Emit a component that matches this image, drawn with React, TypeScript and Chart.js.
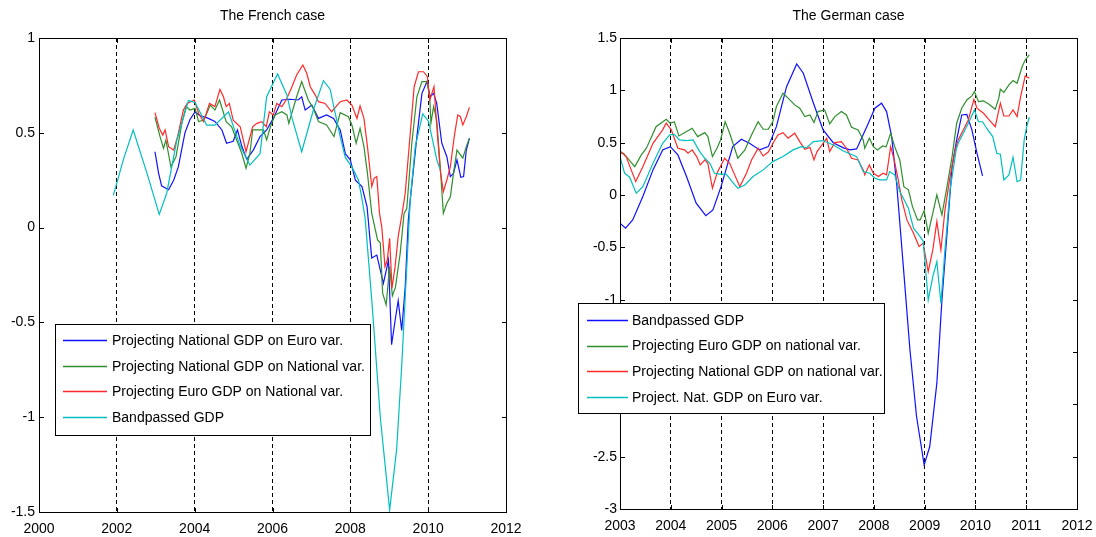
import React, { useEffect, useRef } from "react";
import { Chart, registerables } from "chart.js";

Chart.register(...registerables);

const FONT = '"Liberation Sans", Arial, Helvetica, sans-serif';

// ---------------- French case ----------------
const frTitle = "The French case";
const frXTicks = { min: 2000, max: 2012, step: 2 };
const frYTicks = { min: -1.5, max: 1, step: 0.5 };
const frLabels = [
  "Projecting National GDP on Euro var.",
  "Projecting National GDP on National var.",
  "Projecting Euro GDP on National var.",
  "Bandpassed GDP",
];

const frBlueX = [2002.98, 2003.07, 2003.15, 2003.33, 2003.46, 2003.58, 2003.75, 2003.88, 2004.01, 2004.14, 2004.31, 2004.52, 2004.70, 2004.82, 2004.99, 2005.10, 2005.21, 2005.34, 2005.51, 2005.68, 2005.85, 2006.02, 2006.24, 2006.45, 2006.66, 2006.75, 2006.84, 2007.01, 2007.18, 2007.39, 2007.57, 2007.74, 2007.87, 2008.00, 2008.13, 2008.30, 2008.43, 2008.50, 2008.55, 2008.68, 2008.85, 2008.98, 2009.06, 2009.15, 2009.23, 2009.32, 2009.41, 2009.49, 2009.54, 2009.71, 2009.84, 2009.97, 2010.05, 2010.14, 2010.22, 2010.35, 2010.48, 2010.57, 2010.65, 2010.74, 2010.84, 2010.91, 2010.98, 2011.06];
const frBlueY = [0.40, 0.29, 0.22, 0.20, 0.25, 0.32, 0.50, 0.57, 0.61, 0.59, 0.58, 0.56, 0.515, 0.445, 0.455, 0.515, 0.43, 0.36, 0.41, 0.48, 0.515, 0.576, 0.673, 0.677, 0.673, 0.69, 0.62, 0.646, 0.576, 0.594, 0.576, 0.515, 0.39, 0.357, 0.25, 0.216, 0.11, -0.05, -0.16, -0.145, -0.294, -0.171, -0.618, -0.49, -0.385, -0.543, -0.314, 0.04, 0.146, 0.48, 0.708, 0.77, 0.69, 0.708, 0.655, 0.445, 0.374, 0.269, 0.286, 0.357, 0.265, 0.269, 0.409, 0.471];

const frGreenX = [2002.98, 2003.11, 2003.20, 2003.26, 2003.39, 2003.52, 2003.67, 2003.78, 2003.88, 2004.01, 2004.10, 2004.24, 2004.40, 2004.52, 2004.64, 2004.81, 2004.95, 2005.08, 2005.21, 2005.32, 2005.42, 2005.49, 2005.77, 2005.85, 2005.96, 2006.07, 2006.24, 2006.37, 2006.42, 2006.62, 2006.75, 2006.92, 2007.05, 2007.18, 2007.39, 2007.58, 2007.74, 2007.95, 2008.04, 2008.15, 2008.25, 2008.35, 2008.44, 2008.55, 2008.70, 2008.77, 2008.83, 2008.92, 2009.01, 2009.08, 2009.16, 2009.28, 2009.38, 2009.45, 2009.58, 2009.71, 2009.84, 2009.97, 2010.04, 2010.07, 2010.14, 2010.22, 2010.31, 2010.39, 2010.48, 2010.57, 2010.65, 2010.74, 2010.89, 2010.98, 2011.06];
const frGreenY = [0.582, 0.48, 0.418, 0.462, 0.321, 0.374, 0.55, 0.638, 0.62, 0.629, 0.559, 0.567, 0.646, 0.62, 0.673, 0.559, 0.532, 0.462, 0.392, 0.313, 0.392, 0.515, 0.515, 0.462, 0.541, 0.594, 0.611, 0.594, 0.55, 0.69, 0.77, 0.673, 0.629, 0.559, 0.541, 0.48, 0.606, 0.585, 0.541, 0.445, 0.524, 0.427, 0.286, 0.075, -0.065, -0.08, -0.346, -0.408, -0.206, -0.36, -0.314, -0.137, 0.075, 0.10, 0.445, 0.69, 0.77, 0.77, 0.69, 0.55, 0.638, 0.567, 0.321, 0.075, 0.128, 0.163, 0.286, 0.409, 0.366, 0.427, 0.471];

const frRedX = [2002.98, 2003.09, 2003.18, 2003.24, 2003.33, 2003.46, 2003.56, 2003.71, 2003.81, 2003.99, 2004.10, 2004.23, 2004.38, 2004.52, 2004.65, 2004.74, 2004.81, 2004.89, 2004.99, 2005.17, 2005.32, 2005.49, 2005.60, 2005.72, 2005.84, 2005.92, 2006.02, 2006.11, 2006.24, 2006.35, 2006.50, 2006.62, 2006.78, 2006.88, 2006.97, 2007.10, 2007.18, 2007.35, 2007.52, 2007.74, 2007.91, 2008.04, 2008.17, 2008.25, 2008.35, 2008.44, 2008.55, 2008.61, 2008.68, 2008.75, 2008.81, 2008.89, 2008.95, 2009.01, 2009.07, 2009.15, 2009.23, 2009.32, 2009.41, 2009.54, 2009.64, 2009.75, 2009.88, 2009.98, 2010.04, 2010.15, 2010.21, 2010.31, 2010.39, 2010.48, 2010.57, 2010.67, 2010.76, 2010.83, 2010.89, 2010.98, 2011.06];
const frRedY = [0.606, 0.524, 0.488, 0.515, 0.427, 0.409, 0.48, 0.62, 0.655, 0.673, 0.603, 0.559, 0.655, 0.638, 0.729, 0.69, 0.638, 0.655, 0.567, 0.532, 0.40, 0.532, 0.55, 0.559, 0.532, 0.611, 0.594, 0.655, 0.638, 0.673, 0.743, 0.805, 0.858, 0.814, 0.743, 0.699, 0.664, 0.655, 0.611, 0.664, 0.673, 0.646, 0.576, 0.641, 0.576, 0.427, 0.216, 0.26, 0.269, 0.075, 0.0, -0.206, -0.171, -0.056, -0.32, -0.206, -0.048, 0.06, 0.181, 0.497, 0.743, 0.822, 0.822, 0.796, 0.673, 0.743, 0.567, 0.304, 0.189, 0.251, 0.321, 0.48, 0.594, 0.585, 0.541, 0.585, 0.634];

const frCyanX = [2001.91, 2002.17, 2002.42, 2002.77, 2003.09, 2003.28, 2003.54, 2003.84, 2004.01, 2004.31, 2004.52, 2004.87, 2005.17, 2005.42, 2005.68, 2005.85, 2006.13, 2006.37, 2006.50, 2006.75, 2007.05, 2007.31, 2007.48, 2007.74, 2007.87, 2008.04, 2008.21, 2008.30, 2008.38, 2008.55, 2008.77, 2009.01, 2009.19, 2009.32, 2009.43, 2009.54, 2009.67, 2009.86, 2010.01, 2010.22, 2010.30];
const frCyanY = [0.17, 0.36, 0.515, 0.29, 0.07, 0.18, 0.46, 0.67, 0.66, 0.54, 0.54, 0.61, 0.43, 0.33, 0.39, 0.69, 0.81, 0.70, 0.58, 0.40, 0.62, 0.775, 0.73, 0.48, 0.37, 0.32, 0.25, 0.15, 0.05, -0.38, -1.0, -1.49, -1.17, -0.73, -0.29, 0.15, 0.43, 0.60, 0.56, 0.36, 0.31];

// ---------------- German case ----------------
const deTitle = "The German case";
const deXTicks = { min: 2003, max: 2012, step: 1 };
const deYTicks = { min: -3, max: 1.5, step: 0.5 };
const deLabels = [
  "Bandpassed GDP",
  "Projecting Euro GDP on national var.",
  "Projecting National GDP on national var.",
  "Project. Nat. GDP on Euro var.",
];

const deBlueX = [2003.00, 2003.11, 2003.25, 2003.45, 2003.65, 2003.84, 2003.99, 2004.14, 2004.31, 2004.50, 2004.69, 2004.83, 2004.99, 2005.22, 2005.39, 2005.55, 2005.75, 2005.92, 2006.08, 2006.28, 2006.48, 2006.61, 2006.81, 2007.00, 2007.20, 2007.40, 2007.53, 2007.66, 2007.86, 2008.02, 2008.15, 2008.25, 2008.35, 2008.45, 2008.58, 2008.71, 2008.84, 2008.99, 2009.10, 2009.24, 2009.34, 2009.44, 2009.54, 2009.63, 2009.73, 2009.83, 2009.93, 2010.03, 2010.14];
const deBlueY = [-0.27, -0.317, -0.238, -0.015, 0.24, 0.431, 0.462, 0.383, 0.176, -0.078, -0.197, -0.142, 0.08, 0.462, 0.533, 0.494, 0.431, 0.462, 0.653, 1.035, 1.252, 1.163, 0.877, 0.622, 0.50, 0.45, 0.431, 0.44, 0.653, 0.829, 0.877, 0.797, 0.558, 0.10, -0.684, -1.479, -2.116, -2.578, -2.403, -1.798, -1.002, -0.365, 0.271, 0.526, 0.765, 0.77, 0.622, 0.399, 0.182];

const deGreenX = [2003.00, 2003.07, 2003.29, 2003.42, 2003.52, 2003.71, 2003.91, 2003.99, 2004.07, 2004.16, 2004.31, 2004.42, 2004.53, 2004.67, 2004.73, 2004.82, 2004.91, 2004.98, 2005.07, 2005.16, 2005.32, 2005.46, 2005.59, 2005.72, 2005.82, 2005.92, 2006.01, 2006.08, 2006.21, 2006.31, 2006.44, 2006.54, 2006.64, 2006.74, 2006.82, 2006.90, 2007.03, 2007.13, 2007.23, 2007.36, 2007.46, 2007.56, 2007.69, 2007.79, 2007.82, 2007.91, 2007.99, 2008.07, 2008.17, 2008.24, 2008.33, 2008.41, 2008.51, 2008.59, 2008.68, 2008.76, 2008.86, 2008.91, 2008.99, 2009.07, 2009.16, 2009.24, 2009.34, 2009.44, 2009.54, 2009.63, 2009.73, 2009.83, 2009.93, 2009.98, 2010.06, 2010.16, 2010.26, 2010.39, 2010.46, 2010.49, 2010.56, 2010.66, 2010.74, 2010.82, 2010.92, 2010.98, 2011.06];
const deGreenY = [0.40, 0.399, 0.271, 0.383, 0.447, 0.653, 0.724, 0.686, 0.70, 0.564, 0.606, 0.638, 0.558, 0.596, 0.558, 0.367, 0.447, 0.526, 0.701, 0.59, 0.351, 0.431, 0.574, 0.701, 0.628, 0.628, 0.701, 0.845, 0.972, 0.925, 0.861, 0.829, 0.749, 0.765, 0.692, 0.797, 0.813, 0.679, 0.749, 0.797, 0.765, 0.647, 0.622, 0.526, 0.447, 0.542, 0.462, 0.431, 0.469, 0.46, 0.59, 0.462, 0.335, 0.08, 0.049, -0.111, -0.238, -0.238, -0.149, -0.365, -0.174, 0.001, -0.19, 0.08, 0.367, 0.686, 0.829, 0.908, 0.947, 0.988, 0.892, 0.90, 0.87, 0.819, 0.925, 1.01, 0.98, 1.052, 1.093, 1.068, 1.227, 1.29, 1.338];

const deRedX = [2003.00, 2003.12, 2003.31, 2003.45, 2003.65, 2003.84, 2003.91, 2004.01, 2004.14, 2004.27, 2004.34, 2004.42, 2004.51, 2004.58, 2004.67, 2004.73, 2004.82, 2004.91, 2005.06, 2005.16, 2005.36, 2005.49, 2005.59, 2005.72, 2005.82, 2005.92, 2006.05, 2006.11, 2006.21, 2006.31, 2006.44, 2006.54, 2006.64, 2006.74, 2006.82, 2006.88, 2007.00, 2007.07, 2007.13, 2007.23, 2007.36, 2007.46, 2007.56, 2007.69, 2007.79, 2007.82, 2007.91, 2007.99, 2008.09, 2008.18, 2008.25, 2008.33, 2008.40, 2008.48, 2008.55, 2008.65, 2008.78, 2008.89, 2008.97, 2009.07, 2009.16, 2009.24, 2009.32, 2009.40, 2009.50, 2009.60, 2009.66, 2009.76, 2009.86, 2009.97, 2010.03, 2010.16, 2010.27, 2010.39, 2010.49, 2010.56, 2010.66, 2010.74, 2010.82, 2010.89, 2010.98, 2011.06];
const deRedY = [0.42, 0.367, 0.128, 0.271, 0.494, 0.622, 0.686, 0.622, 0.447, 0.431, 0.40, 0.431, 0.367, 0.287, 0.335, 0.303, 0.064, 0.208, 0.351, 0.303, 0.08, 0.208, 0.335, 0.447, 0.373, 0.41, 0.526, 0.574, 0.596, 0.542, 0.59, 0.51, 0.437, 0.455, 0.335, 0.415, 0.494, 0.542, 0.415, 0.50, 0.51, 0.447, 0.351, 0.335, 0.24, 0.192, 0.287, 0.208, 0.176, 0.208, 0.192, 0.462, 0.335, 0.144, -0.047, -0.238, -0.365, -0.493, -0.46, -0.731, -0.524, -0.254, -0.524, -0.142, 0.176, 0.431, 0.526, 0.622, 0.717, 0.915, 0.829, 0.781, 0.717, 0.653, 0.877, 0.755, 0.755, 0.813, 0.749, 0.94, 1.137, 1.115];

const deCyanX = [2003.00, 2003.09, 2003.19, 2003.32, 2003.45, 2003.65, 2003.84, 2003.98, 2004.07, 2004.17, 2004.31, 2004.44, 2004.57, 2004.67, 2004.77, 2004.86, 2004.96, 2005.09, 2005.21, 2005.32, 2005.46, 2005.62, 2005.82, 2006.01, 2006.21, 2006.41, 2006.57, 2006.67, 2006.81, 2007.00, 2007.20, 2007.40, 2007.66, 2007.79, 2007.92, 2008.02, 2008.12, 2008.25, 2008.31, 2008.41, 2008.51, 2008.61, 2008.68, 2008.78, 2008.91, 2008.97, 2009.07, 2009.16, 2009.24, 2009.32, 2009.40, 2009.50, 2009.62, 2009.66, 2009.76, 2009.86, 2009.98, 2010.06, 2010.14, 2010.22, 2010.34, 2010.42, 2010.49, 2010.56, 2010.66, 2010.74, 2010.82, 2010.89, 2010.96, 2011.01, 2011.06];
const deCyanY = [0.367, 0.208, 0.17, 0.017, 0.08, 0.303, 0.494, 0.574, 0.58, 0.526, 0.52, 0.526, 0.415, 0.351, 0.303, 0.208, 0.20, 0.20, 0.128, 0.064, 0.096, 0.176, 0.24, 0.319, 0.367, 0.431, 0.462, 0.45, 0.51, 0.52, 0.478, 0.42, 0.367, 0.224, 0.208, 0.16, 0.144, 0.144, 0.224, 0.192, 0.033, -0.06, -0.126, -0.317, -0.397, -0.44, -1.002, -0.779, -0.636, -1.034, -0.524, 0.049, 0.431, 0.494, 0.59, 0.686, 0.813, 0.701, 0.70, 0.638, 0.558, 0.399, 0.39, 0.144, 0.192, 0.361, 0.128, 0.144, 0.526, 0.653, 0.743];

const COLORS = {
  blue: "#1010FF",
  green: "#2F8F2F",
  red: "#FF2A2A",
  cyan: "#00BFBF",
};

function pts(xs: number[], ys: number[]) {
  return xs.map((x, i) => ({ x, y: ys[i] }));
}

const boxPlugin = {
  id: "matlabBox",
  afterDatasetsDraw(chart: any) {
    const { ctx, chartArea } = chart;
    const l = Math.round(chartArea.left);
    const t = Math.round(chartArea.top);
    const r = Math.round(chartArea.right);
    const b = Math.round(chartArea.bottom);
    ctx.save();
    ctx.strokeStyle = "#000";
    ctx.lineWidth = 1;
    ctx.setLineDash([]);
    ctx.strokeRect(l + 0.5, t + 0.5, r - l, b - t);
    // inward tick marks
    const xs = chart.scales.x;
    const ys = chart.scales.y;
    const len = 5;
    ctx.beginPath();
    ys.ticks.forEach((tk: any) => {
      const py = Math.round(ys.getPixelForValue(tk.value)) + 0.5;
      ctx.moveTo(l, py);
      ctx.lineTo(l + len, py);
      ctx.moveTo(r + 1, py);
      ctx.lineTo(r + 1 - len, py);
    });
    xs.ticks.forEach((tk: any) => {
      const px = Math.round(xs.getPixelForValue(tk.value)) + 0.5;
      ctx.moveTo(px, b + 1);
      ctx.lineTo(px, b + 1 - len);
      ctx.moveTo(px, t);
      ctx.lineTo(px, t + len);
    });
    ctx.stroke();
    ctx.restore();
  },
};

const legendPlugin = {
  id: "boxLegend",
  afterDraw(chart: any, _args: any, o: any) {
    if (!o || !o.w) return;
    const ctx = chart.ctx;
    ctx.save();
    ctx.fillStyle = "#fff";
    ctx.fillRect(o.x, o.y, o.w, o.h);
    ctx.strokeStyle = "#000";
    ctx.lineWidth = 1;
    ctx.strokeRect(o.x + 0.5, o.y + 0.5, o.w, o.h);
    ctx.font = `14px ${FONT}`;
    ctx.textBaseline = "middle";
    ctx.textAlign = "left";
    chart.data.datasets.forEach((ds: any, i: number) => {
      const y = o.rowY + i * o.rowStep;
      const ly = Math.round(y) + 0.5;
      ctx.strokeStyle = ds.borderColor;
      ctx.lineWidth = 1.3;
      ctx.beginPath();
      ctx.moveTo(o.lineX1, ly);
      ctx.lineTo(o.lineX2, ly);
      ctx.stroke();
      ctx.fillStyle = "#000";
      ctx.fillText(ds.label, o.textX, y + 1);
    });
    ctx.restore();
  },
};

function makeConfig(p: any) {
  const n = p.series.length;
  return {
    type: "line",
    data: {
      datasets: p.series.map((s: any, i: number) => ({
        label: s.label,
        data: pts(s.xs, s.ys),
        borderColor: s.color,
        backgroundColor: s.color,
        borderWidth: 1.2,
        pointRadius: 0,
        tension: 0,
        fill: false,
        order: n - 1 - i,
      })),
    },
    options: {
      responsive: false,
      animation: false,
      events: [],
      layout: { padding: { left: 0, right: p.padRight, top: 0, bottom: 0 } },
      plugins: {
        legend: { display: false },
        tooltip: { enabled: false },
        title: {
          display: true,
          text: p.title,
          fullSize: false,
          color: "#000",
          font: { size: 14, family: FONT, weight: "normal", lineHeight: 1.2 },
          padding: { top: 8, bottom: 13.2 },
        },
        boxLegend: p.legend,
      },
      scales: {
        x: {
          type: "linear",
          min: p.xt.min,
          max: p.xt.max,
          ticks: {
            stepSize: p.xt.step,
            autoSkip: false,
            maxRotation: 0,
            color: "#000",
            padding: p.xPad,
            font: { size: 14, family: FONT },
            callback: (v: number) => String(v),
          },
          grid: { display: true, drawTicks: false, color: "#000", lineWidth: 1 },
          border: { display: false, dash: [4, 3] },
          afterFit: (s: any) => {
            s.height = p.xHeight;
            s.paddingLeft = 0;
            s.paddingRight = 0;
          },
        },
        y: {
          type: "linear",
          min: p.yt.min,
          max: p.yt.max,
          ticks: {
            stepSize: p.yt.step,
            autoSkip: false,
            color: "#000",
            padding: p.yPad,
            font: { size: 14, family: FONT },
            callback: (v: number) => String(v),
          },
          grid: { display: false, drawTicks: false },
          border: { display: false },
          afterFit: (s: any) => {
            s.width = p.yWidth;
            s.paddingTop = 0;
            s.paddingBottom = 0;
          },
        },
      },
    },
    plugins: [boxPlugin, legendPlugin],
  };
}

const frConfig = {
  title: frTitle,
  xt: frXTicks,
  yt: frYTicks,
  padRight: 50,
  xHeight: 25,
  yWidth: 39,
  xPad: 9,
  yPad: 4,
  series: [
    { label: frLabels[0], xs: frBlueX, ys: frBlueY, color: COLORS.blue },
    { label: frLabels[1], xs: frGreenX, ys: frGreenY, color: COLORS.green },
    { label: frLabels[2], xs: frRedX, ys: frRedY, color: COLORS.red },
    { label: frLabels[3], xs: frCyanX, ys: frCyanY, color: COLORS.cyan },
  ],
  legend: { x: 55, y: 324, w: 315, h: 111, lineX1: 63, lineX2: 107, textX: 112, rowY: 340, rowStep: 25.7 },
};

const deConfig = {
  title: deTitle,
  xt: deXTicks,
  yt: deYTicks,
  padRight: 19,
  xHeight: 28,
  yWidth: 64,
  xPad: 9,
  yPad: 3,
  series: [
    { label: deLabels[0], xs: deBlueX, ys: deBlueY, color: COLORS.blue },
    { label: deLabels[1], xs: deGreenX, ys: deGreenY, color: COLORS.green },
    { label: deLabels[2], xs: deRedX, ys: deRedY, color: COLORS.red },
    { label: deLabels[3], xs: deCyanX, ys: deCyanY, color: COLORS.cyan },
  ],
  legend: { x: 22, y: 303, w: 306, h: 110, lineX1: 31, lineX2: 72, textX: 76, rowY: 320, rowStep: 25.6 },
};

function ChartCanvas({ cfg, left, width }: { cfg: any; left: number; width: number }) {
  const ref = useRef<HTMLCanvasElement | null>(null);
  useEffect(() => {
    if (!ref.current) return;
    const chart = new Chart(ref.current, makeConfig(cfg) as any);
    return () => chart.destroy();
  }, [cfg]);
  return (
    <canvas
      ref={ref}
      width={width}
      height={537}
      style={{ position: "absolute", left, top: 0, width, height: 537, display: "block" }}
    />
  );
}

export default function App() {
  return (
    <div style={{ position: "fixed", left: 0, top: 0, width: 1096, height: 537, background: "#fff", overflow: "hidden" }}>
      <ChartCanvas cfg={frConfig} left={0} width={556} />
      <ChartCanvas cfg={deConfig} left={556} width={540} />
    </div>
  );
}
